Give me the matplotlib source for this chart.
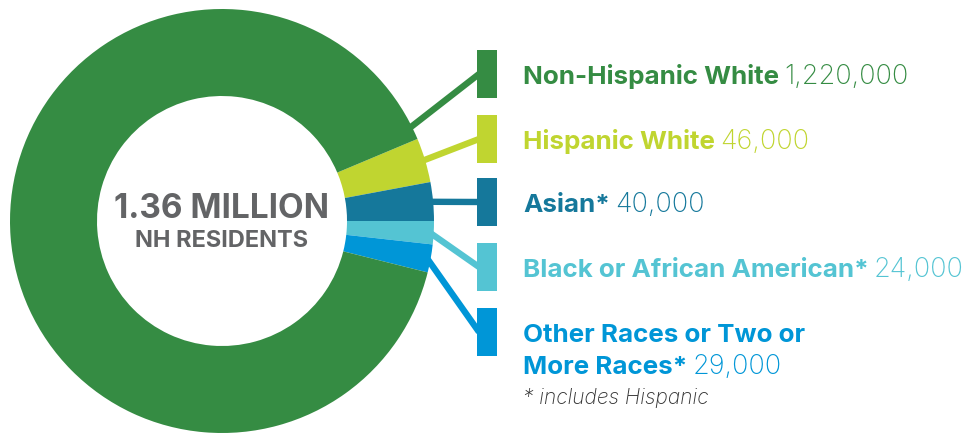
import numpy as np
import matplotlib.pyplot as plt
from matplotlib.patches import Rectangle

# data
labels = ['Non-Hispanic White', 'Hispanic White', 'Asian*',
          'Black or African American*', 'Other Races or Two or\nMore Races*']
values = [1220000, 46000, 40000, 24000, 29000]
value_text = ['1,220,000', '46,000', '40,000', '24,000', '29,000']
colors = ['#358c43', '#c0d530', '#15789b', '#54c4d3', '#0096d7']

W, H = 969, 434
plt.rcParams['font.family'] = ['Inter', 'DejaVu Sans']

fig = plt.figure(figsize=(W / 100, H / 100), dpi=100)
ax = fig.add_axes([0, 0, 1, 1])

# donut: small groups on the right, clockwise
order = [1, 2, 3, 4, 0]
total = sum(values)
start = (values[1] + values[2]) / total * 360
cx, cy, R = 222, H - 221, 212
wedges, _ = ax.pie([values[i] for i in order], colors=[colors[i] for i in order],
                   startangle=start, counterclock=False, center=(cx, cy), radius=R,
                   wedgeprops=dict(width=R - 125, linewidth=0))
ax.set_xlim(0, W)
ax.set_ylim(0, H)
ax.set_aspect('equal')
ax.axis('off')

# leader lines + legend boxes
box_y = [74, 139, 202, 267, 332]     # pixel rows (from top)
box_x, box_w, box_h = 477, 20, 48
for k, i in enumerate(order):
    w = wedges[k]
    ang = (w.theta1 + w.theta2) / 2 if i != 0 else start + 3.5
    a = np.deg2rad(ang)
    x0, y0 = cx + (R - 4) * np.cos(a), cy + (R - 4) * np.sin(a)
    yb = H - box_y[i]
    ax.plot([x0, box_x + 2], [y0, yb], color=colors[i], lw=4.6,
            solid_capstyle='butt', zorder=0)
    ax.add_patch(Rectangle((box_x, yb - box_h / 2), box_w, box_h,
                           color=colors[i], lw=0, zorder=2))

# labels: bold name, then lighter number on the last line
fig.canvas.draw()
r = fig.canvas.get_renderer()
inv = ax.transData.inverted()
for i, lab in enumerate(labels):
    yb = H - box_y[i] - 10
    for line in lab.split('\n'):
        t = ax.text(523, yb, line, color=colors[i], fontsize=18.7,
                    fontweight='bold', va='baseline', ha='left')
        yb -= 32
    yb += 32
    x1 = inv.transform((t.get_window_extent(r).x1, 0))[0]
    ax.text(x1 + 5, yb, value_text[i], color=colors[i], fontsize=19.5,
            fontweight='light', va='baseline', ha='left')

ax.text(523, H - 404, '* includes Hispanic', color='#333333', fontsize=15,
        style='italic', fontweight='light', va='baseline', ha='left')

# centre text
ax.text(cx, H - 209, '1.36 MILLION', color='#636466', fontsize=24,
        fontweight='bold', ha='center', va='center')
ax.text(cx, H - 241, 'NH RESIDENTS', color='#636466', fontsize=17,
        fontweight='bold', ha='center', va='center')

fig.savefig('out.png', dpi=100)
